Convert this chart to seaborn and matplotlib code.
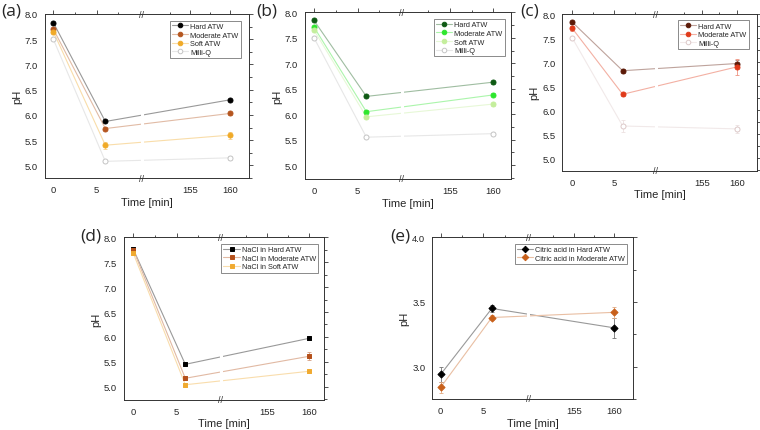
import numpy as np
import pandas as pd
import matplotlib
matplotlib.use("Agg")
import matplotlib.pyplot as plt
import matplotlib.transforms as mtrans
from matplotlib.lines import Line2D
from matplotlib.ticker import FixedLocator, MultipleLocator, FormatStrFormatter
from matplotlib.colors import to_rgb
import seaborn as sns

# ---------------- data ----------------
time_min = [0, 6, 160]
x_tick_values = [0, 5, 155, 160]
x_minor_values = [2.5, 7.5, 152.5, 157.5]
x_label = "Time [min]"
y_label = "pH"

# (a)
a_names = ["Hard ATW", "Moderate ATW", "Soft ATW", "Milli-Q"]
a_hard = [7.83, 5.87, 6.30]
a_hard_err = [0.02, 0.02, 0.02]
a_moderate = [7.70, 5.73, 6.03]
a_moderate_err = [0.03, 0.03, 0.03]
a_soft = [7.65, 5.40, 5.60]
a_soft_err = [0.03, 0.07, 0.07]
a_milliq = [7.50, 5.08, 5.15]
a_milliq_err = [0.01, 0.02, 0.04]

# (b)
b_names = ["Hard ATW", "Moderate ATW", "Soft ATW", "Milli-Q"]
b_hard = [7.84, 6.35, 6.63]
b_hard_err = [0.02, 0.02, 0.03]
b_moderate = [7.71, 6.05, 6.38]
b_moderate_err = [0.02, 0.03, 0.03]
b_soft = [7.65, 5.95, 6.20]
b_soft_err = [0.02, 0.03, 0.03]
b_milliq = [7.50, 5.55, 5.62]
b_milliq_err = [0.01, 0.02, 0.02]

# (c)
c_names = ["Hard ATW", "Moderate ATW", "Milli-Q"]
c_hard = [7.83, 6.82, 6.97]
c_hard_err = [0.03, 0.04, 0.08]
c_moderate = [7.70, 6.33, 6.90]
c_moderate_err = [0.06, 0.03, 0.16]
c_milliq = [7.50, 5.67, 5.61]
c_milliq_err = [0.02, 0.12, 0.08]

# (d)
d_names = ["NaCl in Hard ATW", "NaCl in Moderate ATW", "NaCl in Soft ATW"]
d_hard = [7.76, 5.45, 5.97]
d_hard_err = [0.02, 0.02, 0.03]
d_moderate = [7.75, 5.17, 5.61]
d_moderate_err = [0.03, 0.04, 0.08]
d_soft = [7.68, 5.04, 5.31]
d_soft_err = [0.03, 0.04, 0.03]

# (e)
e_names = ["Citric acid in Hard ATW", "Citric acid in Moderate ATW"]
e_hard = [2.94, 3.45, 3.30]
e_hard_err = [0.06, 0.03, 0.08]
e_moderate = [2.84, 3.38, 3.42]
e_moderate_err = [0.04, 0.02, 0.04]

panel_letters = ["(a)", "(b)", "(c)", "(d)", "(e)"]

# ---------------- helpers ----------------
W, H = 760, 431
FONT = "Liberation Sans"


def lighten(c, f):
    r, g, b = to_rgb(c)
    return (r + (1 - r) * f, g + (1 - g) * f, b + (1 - b) * f)


def make_scale(brk, p155, p160):
    s = (p160 - p155) / 5.0
    tr = 155 + (brk - p155) / s

    def fwd(t):
        t = np.asarray(t, dtype=float)
        return np.where(t <= brk, t, np.where(t >= tr, p155 + (t - 155) * s, brk))

    def inv(u):
        u = np.asarray(u, dtype=float)
        return np.where(u <= brk, u, 155 + (u - p155) / s)

    return fwd, inv


def add_axes_px(fig, l, t, r, b):
    return fig.add_axes([l / W, 1 - b / H, (r - l) / W, (b - t) / H])


def draw_panel(ax, series, geom, ylim, ymaj, ymin, leg_anchor):
    brk, p155, p160, uleft, uright = geom
    fwd, inv = make_scale(brk, p155, p160)
    ax.set_xscale("function", functions=(fwd, inv))
    handles = []
    for name, vals, errs, color, marker, face in series:
        df = pd.DataFrame({"t": time_min, "pH": vals})
        lc = lighten(color, 0.6)
        sns.lineplot(data=df, x="t", y="pH", ax=ax, color=lc, lw=0.8,
                     zorder=2, legend=False, estimator=None)
        ax.errorbar(time_min, vals, yerr=errs, fmt="none", ecolor=lighten(color, 0.45),
                    elinewidth=0.6, capsize=1.5, capthick=0.6, zorder=2.9)
        sns.scatterplot(data=df, x="t", y="pH", ax=ax, marker=marker,
                        s=(11 if marker == "s" else 13),
                        color=face, edgecolor=color, linewidth=0.7,
                        zorder=3, legend=False)
        handles.append(Line2D([], [], color=lc, lw=0.8, marker=marker,
                              markersize=3.3, markerfacecolor=face,
                              markeredgecolor=color, markeredgewidth=0.7,
                              label=name))
    # white gap at the break
    ax.axvline(brk, color="white", lw=2.2, zorder=2.2)
    blend = mtrans.blended_transform_factory(ax.transData, ax.transAxes)
    for yy in (0, 1):
        ax.text(brk, yy, "//", transform=blend, ha="center", va="center",
                fontsize=6.5, color="#333333", clip_on=False, zorder=6,
                family=FONT)
    ax.set_xlim(float(inv(uleft)), float(inv(uright)))
    ax.set_ylim(*ylim)
    ax.xaxis.set_major_locator(FixedLocator(x_tick_values))
    ax.xaxis.set_minor_locator(FixedLocator(x_minor_values))
    ax.set_xticklabels([str(v) for v in x_tick_values])
    ax.yaxis.set_major_locator(MultipleLocator(ymaj))
    ax.yaxis.set_minor_locator(MultipleLocator(ymin))
    ax.yaxis.set_major_formatter(FormatStrFormatter("%.1f"))
    ax.tick_params(which="both", direction="out", top=True, right=True,
                   labelsize=6.8, width=0.6, color="#333333", pad=2)
    ax.tick_params(which="major", length=3)
    ax.tick_params(which="minor", length=1.8)
    for lab in ax.get_xticklabels() + ax.get_yticklabels():
        lab.set_family(FONT)
    for sp in ax.spines.values():
        sp.set_linewidth(0.7)
        sp.set_color("#333333")
    ax.set_xlabel(x_label, fontsize=8, family=FONT, labelpad=2)
    ax.set_ylabel(y_label, fontsize=8, family=FONT, labelpad=2)
    ax.grid(False)
    leg = ax.legend(handles=handles, loc="upper right", bbox_to_anchor=leg_anchor,
                    borderaxespad=0, frameon=True, fancybox=False,
                    handlelength=2.2, handletextpad=0.3, labelspacing=0.2,
                    borderpad=0.3, prop={"family": FONT, "size": 5.3})
    leg.get_frame().set_edgecolor("#555555")
    leg.get_frame().set_linewidth(0.6)


# ---------------- figure ----------------
sns.set_theme(style="white")
plt.rcParams["font.family"] = [FONT, "DejaVu Sans"]
fig = plt.figure(figsize=(W / 100, H / 100), dpi=100)
fig.patch.set_facecolor("white")

mq_edge = "#c4c4c4"

ax_a = add_axes_px(fig, 45, 15, 249, 179)
draw_panel(ax_a, [
    (a_names[0], a_hard, a_hard_err, "#000000", "o", "#000000"),
    (a_names[1], a_moderate, a_moderate_err, "#b5561f", "o", "#b5561f"),
    (a_names[2], a_soft, a_soft_err, "#f0aa28", "o", "#f0aa28"),
    (a_names[3], a_milliq, a_milliq_err, mq_edge, "o", "white"),
], (10.2, 15.75, 20.4, -0.96, 22.57), (4.75, 8.0), 0.5, 0.25, (0.96, 0.96))

ax_b = add_axes_px(fig, 305, 13.3, 511, 180)
draw_panel(ax_b, [
    (b_names[0], b_hard, b_hard_err, "#0e5a14", "o", "#0e5a14"),
    (b_names[1], b_moderate, b_moderate_err, "#2ee62e", "o", "#2ee62e"),
    (b_names[2], b_soft, b_soft_err, "#c4ee9c", "o", "#c4ee9c"),
    (b_names[3], b_milliq, b_milliq_err, mq_edge, "o", "white"),
], (10.05, 15.58, 20.56, -1.03, 22.57), (4.73, 8.0), 0.5, 0.25, (0.97, 0.96))

ax_c = add_axes_px(fig, 562.3, 15, 756.7, 171.7)
draw_panel(ax_c, [
    (c_names[0], c_hard, c_hard_err, "#5c1a08", "o", "#5c1a08"),
    (c_names[1], c_moderate, c_moderate_err, "#e03a1a", "o", "#e03a1a"),
    (c_names[2], c_milliq, c_milliq_err, "#dcc8c8", "o", "white"),
], (9.96, 15.4, 19.6, -1.19, 21.95), (4.74, 8.0), 0.5, 0.25, (0.96, 0.96))

ax_d = add_axes_px(fig, 124, 238.3, 324.3, 400.7)
draw_panel(ax_d, [
    (d_names[0], d_hard, d_hard_err, "#000000", "s", "#000000"),
    (d_names[1], d_moderate, d_moderate_err, "#b5501a", "s", "#b5501a"),
    (d_names[2], d_soft, d_soft_err, "#f0aa30", "s", "#f0aa30"),
], (10.1, 15.4, 20.23, -1.07, 22.03), (4.74, 8.0), 0.5, 0.25, (0.97, 0.96))

ax_e = add_axes_px(fig, 432.3, 238.3, 633.3, 400)
draw_panel(ax_e, [
    (e_names[0], e_hard, e_hard_err, "#000000", "D", "#000000"),
    (e_names[1], e_moderate, e_moderate_err, "#c8601a", "D", "#c8601a"),
], (10.27, 15.6, 20.35, -0.98, 22.58), (2.75, 4.0), 0.5, 0.25, (0.97, 0.96))

label_pos = [(11, 12), (267, 12), (530, 12), (91, 237), (400, 237)]
for txt, (px, py) in zip(panel_letters, label_pos):
    fig.text(px / W, 1 - py / H, txt, fontsize=12.5, family="Open Sans",
             ha="center", va="center")

fig.savefig("out.png", dpi=100, facecolor="white")
